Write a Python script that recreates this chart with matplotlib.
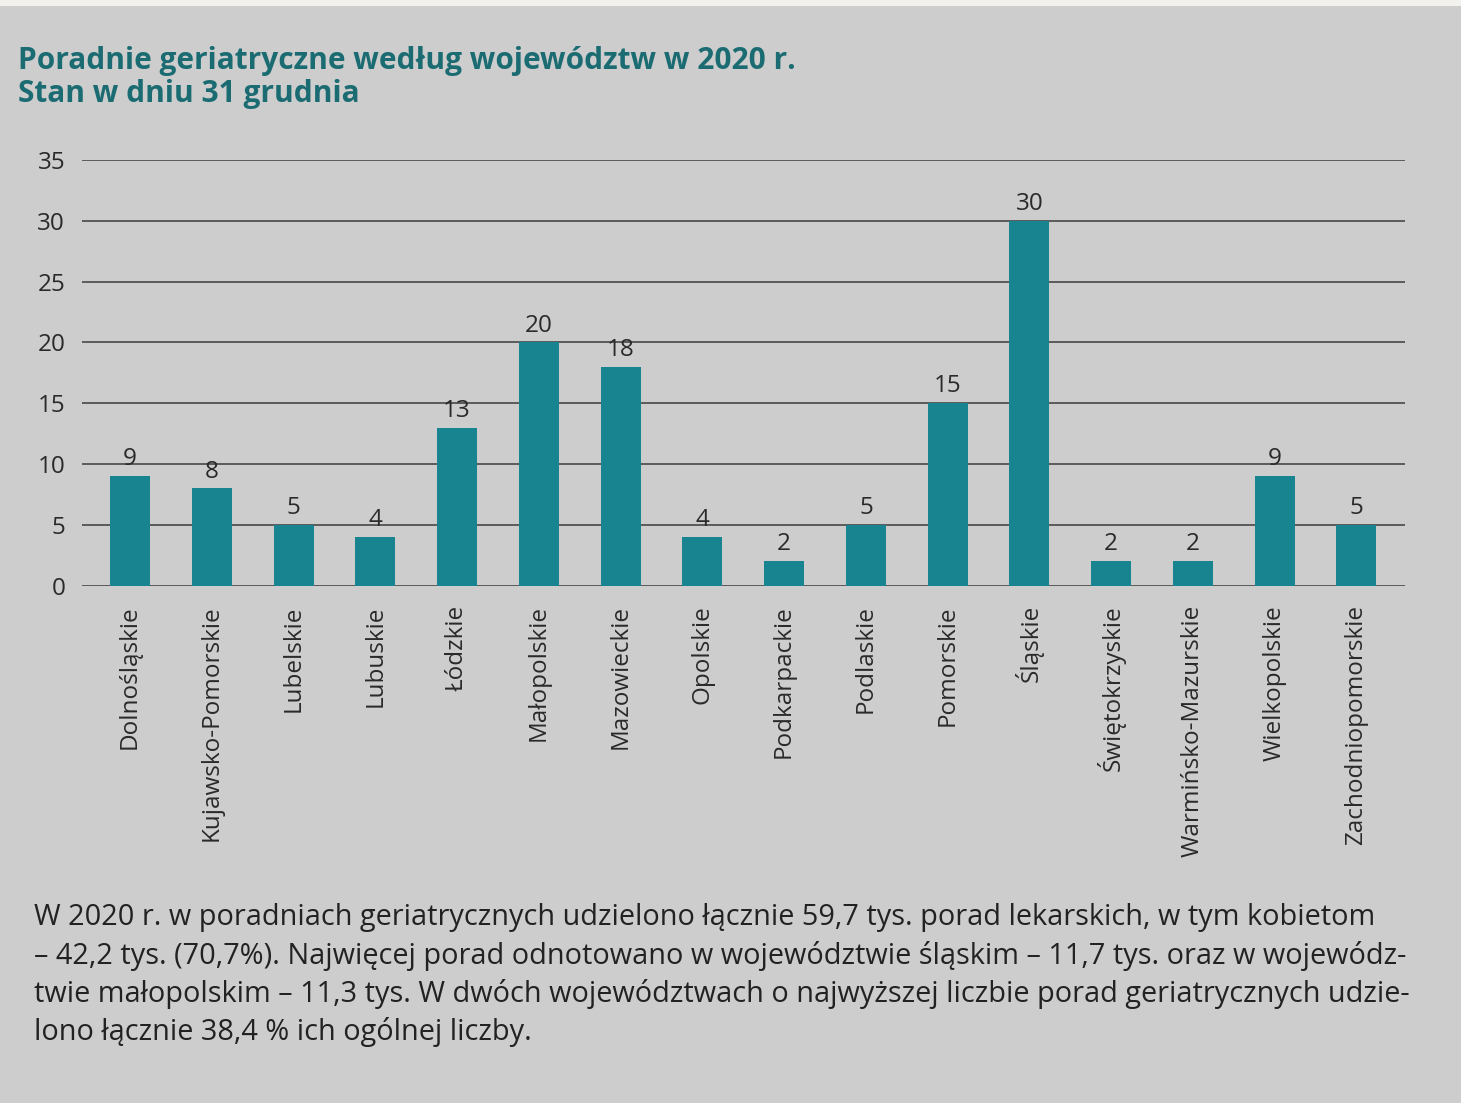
import matplotlib
matplotlib.use("Agg")
import matplotlib.pyplot as plt
import numpy as np

regions = ["Dolnośląskie", "Kujawsko-Pomorskie", "Lubelskie", "Lubuskie", "Łódzkie",
           "Małopolskie", "Mazowieckie", "Opolskie", "Podkarpackie", "Podlaskie",
           "Pomorskie", "Śląskie", "Świętokrzyskie", "Warmińsko-Mazurskie",
           "Wielkopolskie", "Zachodniopomorskie"]
clinics = [9, 8, 5, 4, 13, 20, 18, 4, 2, 5, 15, 30, 2, 2, 9, 5]
yticks = [0, 5, 10, 15, 20, 25, 30, 35]

title = "Poradnie geriatryczne według województw w 2020 r.\nStan w dniu 31 grudnia"
body = ["W 2020 r. w poradniach geriatrycznych udzielono łącznie 59,7 tys. porad lekarskich, w tym kobietom",
        "– 42,2 tys. (70,7%). Najwięcej porad odnotowano w województwie śląskim – 11,7 tys. oraz w wojewódz-",
        "twie małopolskim – 11,3 tys. W dwóch województwach o najwyższej liczbie porad geriatrycznych udzie-",
        "lono łącznie 38,4 % ich ogólnej liczby."]

bg = "#cdcdcd"
teal = "#17848f"
plt.rcParams['font.family'] = ['Open Sans', 'DejaVu Sans']

fig = plt.figure(figsize=(14.61, 11.03), dpi=100, facecolor=bg)
ax = fig.add_axes([0.056, 0.469, 0.906, 0.386])
ax.set_facecolor(bg)

x = np.arange(len(regions))
bars = ax.bar(x, clinics, width=0.49, color=teal, zorder=3)
for xi, v in zip(x, clinics):
    ax.text(xi, v + 0.4, str(v), ha="center", va="bottom", fontsize=17.5, color="#2a2a2a", zorder=4)

ax.set_ylim(0, 35)
ax.set_xlim(-0.59, 15.6)
ax.set_yticks(yticks)
ax.set_yticklabels([str(t) for t in yticks], fontsize=17.5, color="#2a2a2a")
ax.set_xticks(x)
ax.set_xticklabels(regions, rotation=90, fontsize=17.5, color="#2a2a2a")
ax.tick_params(length=0, pad=14)
ax.tick_params(axis="y", pad=12)
for t in yticks:
    ax.axhline(t, color="#5a5a5a", lw=1.4, zorder=1)
for s in ax.spines.values():
    s.set_visible(False)

fig.text(0.0125, 0.958, title, fontsize=21.5, fontweight="bold", color="#1b6c72",
         va="top", ha="left", linespacing=1.12)

for i, line in enumerate(body):
    fig.text(0.023, 1 - (918 + 38 * i) / 1103, line, fontsize=20.8, color="#222222",
             va="center", ha="left")

# white paper strip along the top edge
fig.patches.append(plt.Rectangle((0, 0.995), 1, 0.005, transform=fig.transFigure,
                                 facecolor="#f3f1ee", edgecolor="none"))

fig.savefig("out.png", dpi=100, facecolor=bg)
